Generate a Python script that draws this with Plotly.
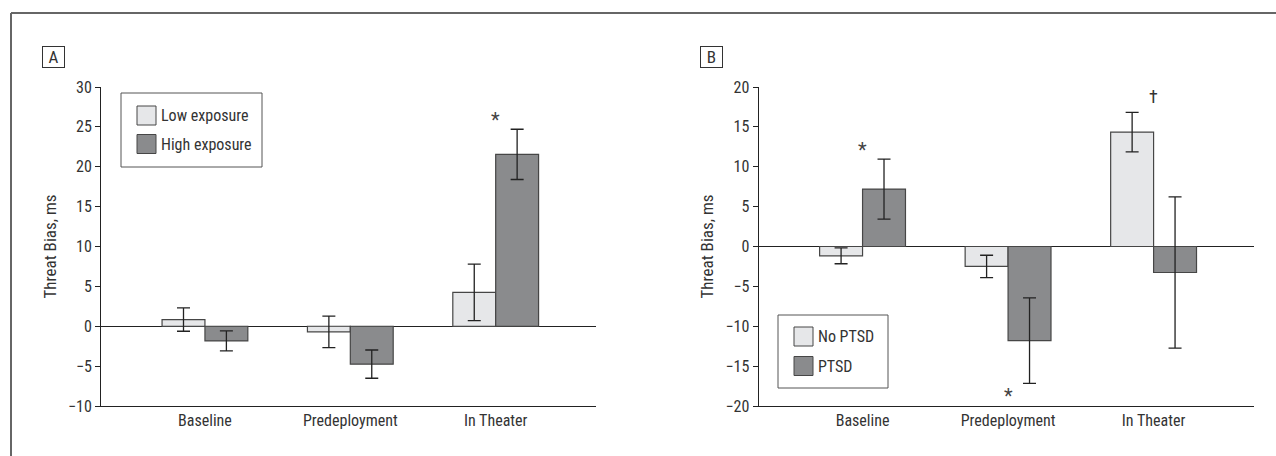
import plotly.graph_objects as go

# ---------------- data ----------------
categories = ["Baseline", "Predeployment", "In Theater"]

a_names = ["Low exposure", "High exposure"]
a_low = [0.84, -0.70, 4.25]
a_low_err = [1.47, 1.97, 3.54]
a_high = [-1.84, -4.75, 21.55]
a_high_err = [1.25, 1.77, 3.15]

b_names = ["No PTSD", "PTSD"]
b_no = [-1.17, -2.50, 14.35]
b_no_err = [0.99, 1.40, 2.48]
b_ptsd = [7.20, -11.80, -3.26]
b_ptsd_err = [3.76, 5.37, 9.48]

a_yticks = [-10, -5, 0, 5, 10, 15, 20, 25, 30]
a_yticktext = ["\u221210", "\u22125", "0", "5", "10", "15", "20", "25", "30"]
b_yticks = [-20, -15, -10, -5, 0, 5, 10, 15, 20]
b_yticktext = ["\u221220", "\u221215", "\u221210", "\u22125", "0", "5", "10", "15", "20"]

y_title = "Threat Bias, ms"

# significance markers (category, y value, symbol)
a_sig_cat = ["In Theater"]
a_sig_y = [25.8]
a_sig_txt = ["*"]
b_sig_cat = ["Baseline", "Predeployment", "In Theater"]
b_sig_y = [12.05, -18.8, 18.8]
b_sig_txt = ["*", "*", "\u2020"]

# ---------------- style ----------------
FONT = "Liberation Sans Narrow, Arial Narrow, Roboto Condensed, Liberation Sans, Arial, sans-serif"
TXT = "#333333"
AX = "#222222"
LIGHT = "#e6e7e9"
DARK = "#8a8b8d"
EDGE = "#464646"

W, H = 1276, 456
def px_x(p):
    return p / W
def px_y(p):
    return 1 - p / H

fig = go.Figure()
colors = [LIGHT, DARK]

def add_bars(y, err, name, color, xa, ya):
    fig.add_trace(go.Bar(
        x=categories, y=y, name=name, xaxis=xa, yaxis=ya, showlegend=False,
        marker=dict(color=color, line=dict(color=EDGE, width=1.2)),
        error_y=dict(type="data", array=err, visible=True, color=AX, thickness=1.3, width=6.5),
    ))

add_bars(a_low, a_low_err, a_names[0], LIGHT, "x", "y")
add_bars(a_high, a_high_err, a_names[1], DARK, "x", "y")
add_bars(b_no, b_no_err, b_names[0], LIGHT, "x2", "y2")
add_bars(b_ptsd, b_ptsd_err, b_names[1], DARK, "x2", "y2")

plot_top, plot_bot = 87, 406
ydom = [px_y(plot_bot), px_y(plot_top)]

xcommon = dict(
    type="category", showline=True, linecolor=AX, linewidth=1, ticks="",
    showgrid=False, zeroline=False, tickfont=dict(family=FONT, size=16, color=TXT),
    range=[-0.715, 2.69], fixedrange=True, automargin=False,
)
ycommon = dict(
    showline=True, linecolor=AX, linewidth=1, ticks="outside", ticklen=5, tickcolor=AX,
    tickwidth=1, showgrid=False, zeroline=True, zerolinecolor=AX, zerolinewidth=1,
    tickfont=dict(family=FONT, size=16, color=TXT), tickmode="array", automargin=False,
    fixedrange=True,
    title=dict(text=y_title, font=dict(family=FONT, size=17, color=TXT), standoff=7),
)

fig.update_layout(
    width=W, height=H, autosize=False, margin=dict(l=0, r=0, t=0, b=0, pad=0),
    paper_bgcolor="white", plot_bgcolor="white",
    barmode="group", bargap=0.41, bargroupgap=0,
    font=dict(family=FONT, size=16, color=TXT),
    xaxis=dict(domain=[px_x(101), px_x(596)], anchor="y", **xcommon),
    yaxis=dict(domain=ydom, anchor="x", range=[-10, 30], tickvals=a_yticks,
               ticktext=a_yticktext, **ycommon),
    xaxis2=dict(domain=[px_x(758.5), px_x(1254)], anchor="y2", **xcommon),
    yaxis2=dict(domain=ydom, anchor="x2", range=[-20, 20], tickvals=b_yticks,
                ticktext=b_yticktext, **ycommon),
    showlegend=False,
)

# legends (box, swatches, labels) built from the series names/colours
def add_legend(box, sw_x, centers, text_x, names):
    x0, y0, x1, y1 = box
    fig.add_shape(type="rect", xref="paper", yref="paper",
                  x0=px_x(x0), x1=px_x(x1), y0=px_y(y1), y1=px_y(y0),
                  line=dict(color="#555555", width=1), fillcolor="white", layer="above")
    for name, col, cy in zip(names, colors, centers):
        fig.add_shape(type="rect", xref="paper", yref="paper",
                      x0=px_x(sw_x), x1=px_x(sw_x + 19), y0=px_y(cy + 9.5), y1=px_y(cy - 9.5),
                      line=dict(color=EDGE, width=1), fillcolor=col, layer="above")
        fig.add_annotation(x=px_x(text_x), y=px_y(cy), xref="paper", yref="paper", text=name,
                           showarrow=False, xanchor="left", yanchor="middle",
                           font=dict(family=FONT, size=16, color=TXT))

add_legend((121, 93, 262, 167), 137, (115.5, 144), 159, a_names)
add_legend((778, 315, 888, 388), 794, (336.5, 366), 816, b_names)

# significance markers
for c, yv, t in zip(a_sig_cat, a_sig_y, a_sig_txt):
    fig.add_annotation(x=c, y=yv, xref="x", yref="y", text=t, showarrow=False,
                       font=dict(family=FONT, size=20, color="#444444"))
for c, yv, t in zip(b_sig_cat, b_sig_y, b_sig_txt):
    fig.add_annotation(x=c, y=yv, xref="x2", yref="y2", text=t, showarrow=False,
                       font=dict(family=FONT, size=20 if t == "*" else 18, color="#444444" if t == "*" else TXT))

# panel labels
for lab, cx in (("A", 53), ("B", 711)):
    fig.add_annotation(x=px_x(cx), y=px_y(57), xref="paper", yref="paper", text=lab,
                       showarrow=False, xanchor="center", yanchor="middle",
                       font=dict(family=FONT, size=17, color=TXT),
                       bordercolor="#333333", borderwidth=1, borderpad=1, width=19, height=18)

# figure frame (top and left edges)
fig.add_shape(type="line", xref="paper", yref="paper", x0=px_x(11), x1=1, y0=px_y(13), y1=px_y(13),
              line=dict(color="#666666", width=2))
fig.add_shape(type="line", xref="paper", yref="paper", x0=px_x(11), x1=px_x(11), y0=0, y1=px_y(13),
              line=dict(color="#666666", width=2))

fig.write_html(
    "out.html",
    config={"displayModeBar": False, "responsive": False, "staticPlot": True},
    post_script="document.body.style.margin='0';document.body.style.overflow='hidden';",
)
